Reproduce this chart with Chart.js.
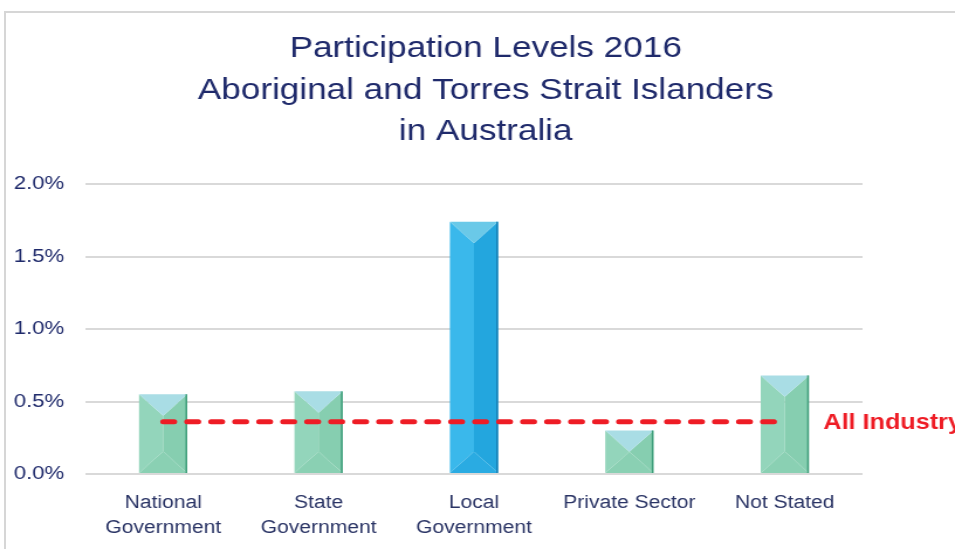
<!DOCTYPE html>
<html>
<head>
<meta charset="utf-8">
<script src="https://cdn.jsdelivr.net/npm/chart.js@4.4.1/dist/chart.umd.min.js"></script>
<style>
  html, body { margin: 0; padding: 0; background: #fff; overflow: hidden; }
  #wrap { position: relative; width: 955px; height: 549px; overflow: hidden; }
  #frame { position: absolute; left: 4px; top: 11px; width: 1000px; height: 600px;
           border-left: 2px solid #d6d6d6; border-top: 2px solid #d6d6d6; }
  /* the original picture is stretched sideways, so the canvas is too */
  #chart { position: absolute; left: 0; top: 0; width: 816px; height: 549px;
           transform-origin: 0 0; transform: scaleX(1.1703); }
</style>
</head>
<body>
<div id="wrap">
  <div id="frame"></div>
  <canvas id="chart" width="816" height="549"></canvas>
</div>
<script>
// data
var titleLines = ['Participation Levels 2016', 'Aboriginal and Torres Strait Islanders', 'in Australia'];
var categories = [['National', 'Government'], ['State', 'Government'], ['Local', 'Government'], 'Private Sector', 'Not Stated'];
var participation = [0.55, 0.57, 1.74, 0.30, 0.68];
var allIndustry = [0.36, 0.36, 0.36, 0.36, 0.36];
var allIndustryLabel = 'All Industry';
var yTicks = [0, 0.5, 1.0, 1.5, 2.0];

var navy = '#1f2a6b';
var fontFamily = '"Liberation Sans", Arial, sans-serif';
var highlightIndex = 2;

var green = { top: '#a9dde5', left: '#93d5bb', right: '#86ceb0', bottom: '#8ad0b3', edge: '#3f9e7b' };
var blue = { top: '#6ac9e8', left: '#3ab8eb', right: '#23a6de', bottom: '#2aabe2', edge: '#1580b5' };

// title drawn by hand so it can sit centred over the whole frame
var titleBlock = {
    id: 'titleBlock',
    afterDraw: function (chart) {
        var ctx = chart.ctx;
        ctx.save();
        ctx.font = '30px ' + fontFamily;
        ctx.fillStyle = navy;
        ctx.textAlign = 'center';
        ctx.textBaseline = 'middle';
        var ys = [49, 91, 132];
        titleLines.forEach(function (line, i) {
            ctx.fillText(line, 415, ys[i]);
        });
        ctx.restore();
    }
};

// draws the bevelled look of each bar
var bevelBars = {
    id: 'bevelBars',
    afterDatasetDraw: function (chart, args) {
        if (args.index !== 0) return;
        var ctx = chart.ctx;
        args.meta.data.forEach(function (bar, i) {
            var c = i === highlightIndex ? blue : green;
            var w = bar.width;
            var l = bar.x - w / 2, r = bar.x + w / 2;
            var t = bar.y, b = bar.base;
            var d = Math.min(w * 0.52, (b - t) / 2);
            var cx = bar.x;
            ctx.save();
            function poly(pts, col) {
                ctx.beginPath();
                ctx.moveTo(pts[0][0], pts[0][1]);
                for (var k = 1; k < pts.length; k++) ctx.lineTo(pts[k][0], pts[k][1]);
                ctx.closePath();
                ctx.fillStyle = col;
                ctx.fill();
            }
            poly([[l, t], [cx, t + d], [cx, b - d], [l, b]], c.left);
            poly([[r, t], [cx, t + d], [cx, b - d], [r, b]], c.right);
            poly([[l, t], [r, t], [cx, t + d]], c.top);
            poly([[l, b], [r, b], [cx, b - d]], c.bottom);
            ctx.fillStyle = c.edge;
            ctx.fillRect(r - 1.5, t, 1.5, b - t);
            ctx.restore();
        });
    }
};

// label at the end of the dashed line
var lineLabel = {
    id: 'lineLabel',
    afterDatasetsDraw: function (chart) {
        var meta = chart.getDatasetMeta(1);
        var last = meta.data[meta.data.length - 1];
        var ctx = chart.ctx;
        ctx.save();
        ctx.font = 'bold 21.5px ' + fontFamily;
        ctx.fillStyle = '#ee1c25';
        ctx.textAlign = 'left';
        ctx.textBaseline = 'middle';
        ctx.fillText(allIndustryLabel, last.x + 33, last.y + 1);
        ctx.restore();
    }
};

new Chart(document.getElementById('chart'), {
    data: {
        labels: categories,
        datasets: [{
            type: 'bar',
            data: participation,
            backgroundColor: 'rgba(0,0,0,0)',
            barPercentage: 0.31,
            categoryPercentage: 1,
            order: 2
        }, {
            type: 'line',
            data: allIndustry,
            borderColor: '#ee1c25',
            borderWidth: 5,
            borderDash: [9.5, 11],
            borderCapStyle: 'round',
            pointRadius: 0,
            fill: false,
            order: 1
        }]
    },
    options: {
        responsive: false,
        animation: false,
        layout: { padding: { left: 0, right: 79, top: 184, bottom: 0 } },
        plugins: {
            legend: { display: false },
            tooltip: { enabled: false },
            title: { display: false }
        },
        scales: {
            x: {
                grid: { display: false },
                border: { display: false },
                ticks: {
                    color: '#2a3465',
                    font: { family: fontFamily, size: 18, lineHeight: 1.4 },
                    padding: 8,
                    maxRotation: 0,
                    autoSkip: false
                },
                afterFit: function (scale) { scale.height = 75; }
            },
            y: {
                min: 0,
                max: 2,
                afterBuildTicks: function (scale) {
                    scale.ticks = yTicks.map(function (v) { return { value: v }; });
                },
                grid: { color: '#d9d9d9', lineWidth: 2, drawTicks: false },
                border: { display: false },
                ticks: {
                    color: navy,
                    padding: 18,
                    font: { family: fontFamily, size: 19 },
                    callback: function (v) { return v.toFixed(1) + '%'; }
                },
                afterFit: function (scale) { scale.width = 73; }
            }
        }
    },
    plugins: [titleBlock, bevelBars, lineLabel]
});
</script>
</body>
</html>
